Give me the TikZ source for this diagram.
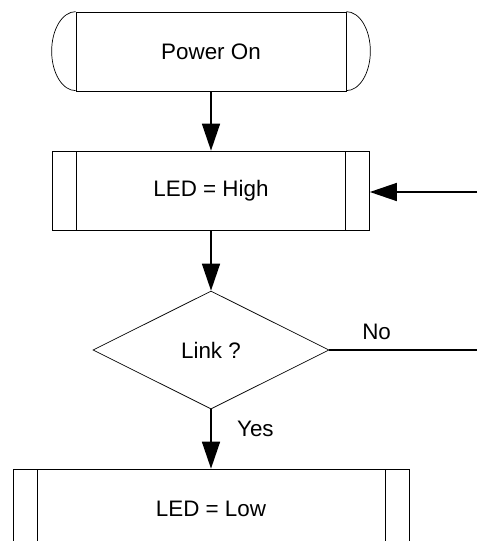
\documentclass[tikz,border=0pt]{standalone}
\usepackage{fontspec}
\setmainfont{Liberation Sans}
\usetikzlibrary{shapes.geometric,arrows.meta}

\tikzset{
	box/.style={draw, line width=0.7pt, minimum height=79pt, inner sep=0pt, font=\fontsize{22.4}{25}\selectfont},
	proc/.style={box,
		path picture={
			\draw[line width=0.7pt] ([xshift=24pt]path picture bounding box.north west) -- ([xshift=24pt]path picture bounding box.south west);
			\draw[line width=0.7pt] ([xshift=-24pt]path picture bounding box.north east) -- ([xshift=-24pt]path picture bounding box.south east);}},
	test/.style={box, diamond, minimum width=236pt, minimum height=118pt},
	flow/.style={line width=1.6pt, -{Triangle[length=27pt,width=18pt]}},
	lbl/.style={font=\fontsize{22.4}{25}\selectfont}
}

\begin{document}
\begin{tikzpicture}[x=1pt, y=-1pt]
		
		\useasboundingbox (0,0) rectangle (477,541);
		
		\node[box, minimum width=270pt] (power) at (211, 51.5) {Power On};
		\draw[line width=0.7pt] (power.north west) arc[start angle=270, end angle=90, x radius=24, y radius=39.5];
		\draw[line width=0.7pt] (power.north east) arc[start angle=270, end angle=450, x radius=24, y radius=39.5];
		
		\node[proc, minimum width=317pt] (high) at (211, 190.5) {LED = High};
		\node[test] (link) at (211, 350) {Link ?};
		\node[proc, minimum width=396pt] (low) at (211, 508.5) {LED = Low};
		
		\coordinate (loop) at (477, 192);
		\coordinate (out) at (477, 350);
		
		\draw[flow] (power) -- (high);
		\draw[flow] (loop) -- (loop -| high.east);
		\draw[flow] (high) -- (link);
		\draw[flow] (link) -- (low) node[lbl, pos=0.33, right=22pt] {Yes};
		\draw[line width=1.6pt] (link.east) -- (out) node[lbl, pos=0.32, above=6pt] {No};
		
	\end{tikzpicture}
\end{document}
